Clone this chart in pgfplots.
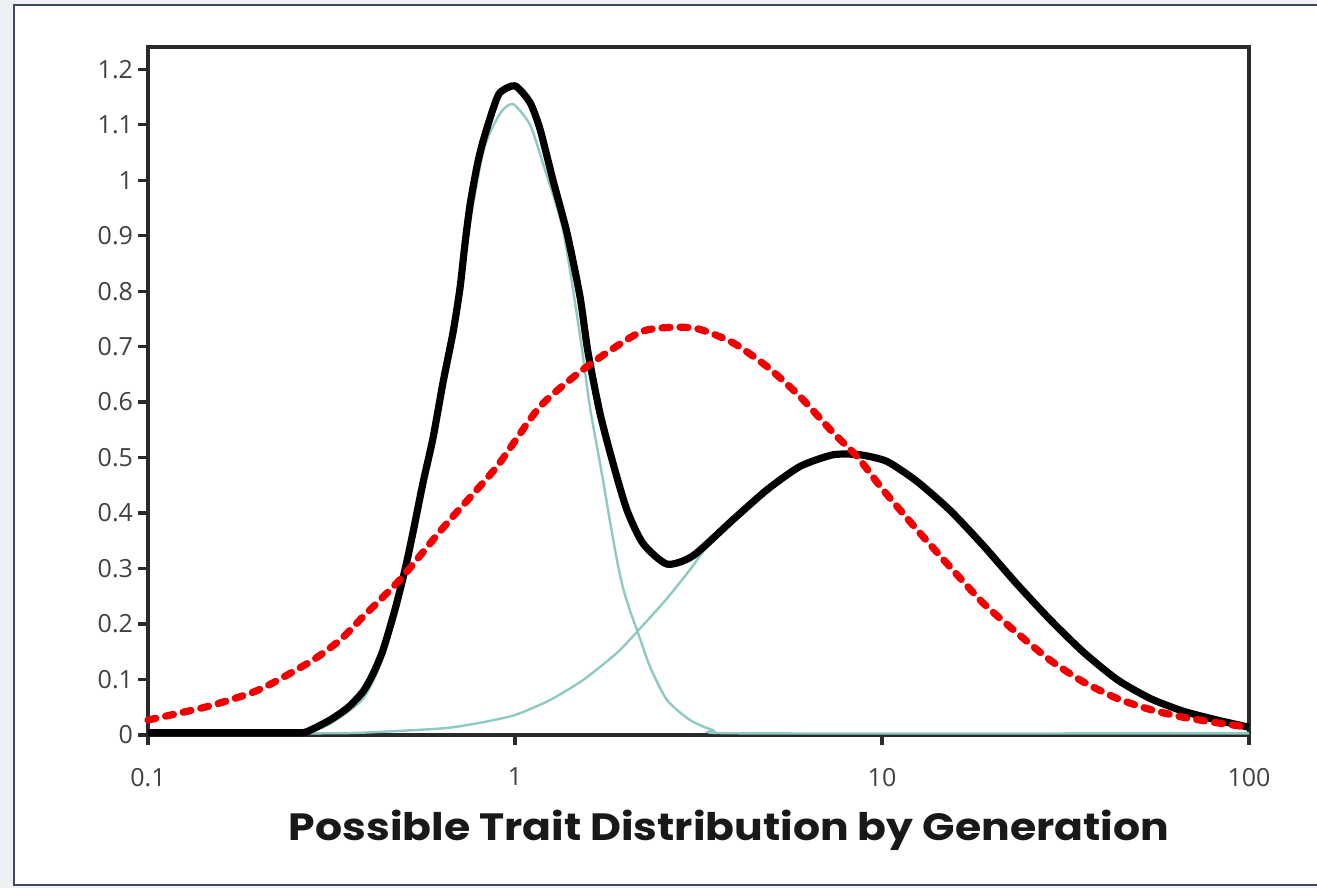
\documentclass[border=0pt]{standalone}
\usepackage{fontspec}
\setmainfont{Open Sans}
\newfontfamily\titlefont{Poppins}
\usepackage{pgfplots}
\pgfplotsset{compat=1.18}
\definecolor{framec}{HTML}{3F4A5E}
\definecolor{bgout}{HTML}{EEF0F3}
\definecolor{tealc}{HTML}{8FC9C4}
\definecolor{tickc}{HTML}{404040}
\definecolor{axisc}{HTML}{2A2A2A}
\definecolor{redc}{HTML}{F20000}
\begin{document}
\begin{tikzpicture}
\useasboundingbox (0pt,0pt) rectangle (658.5pt,444pt);
\fill[bgout] (0pt,0pt) rectangle (658.5pt,444pt);
\filldraw[fill=white, draw=framec, line width=1.4pt] (7pt,1.5pt) rectangle (662pt,441.5pt);
\begin{axis}[
  at={(74pt,76.5pt)}, anchor=south west,
  scale only axis, width=550.5pt, height=344pt,
  xmode=log, xmin=0.1, xmax=100, ymin=0, ymax=1.24,
  xtick={0.1,1,10,100}, xticklabels={0.1,1,10,100},
  xminorticks=false,
  ytick={0,0.1,0.2,0.3,0.4,0.5,0.6,0.7,0.8,0.9,1,1.1,1.2},
  yticklabels={0,0.1,0.2,0.3,0.4,0.5,0.6,0.7,0.8,0.9,1,1.1,1.2},
  tick pos=left, tick align=outside, major tick length=5pt,
  axis line style={axisc, line width=1.6pt},
  every tick/.style={axisc, line width=1.6pt},
  tick label style={font=\fontsize{12.5}{14}\selectfont, text=tickc},
  yticklabel style={xshift=1pt},
  xticklabel style={yshift=-8pt},
  clip=false,
]
% first component (teal)
\addplot[tealc, line width=1.2pt, smooth, tension=0.4] coordinates {
(0.2712,0.003) (0.3133,0.02) (0.3853,0.065) (0.4369,0.14) (0.5015,0.28) (0.5617,0.44) (0.6365,0.62) (0.7307,0.87) (0.8181,1.05) (0.9102,1.12) (0.9875,1.137) (1.0986,1.10) (1.192,1.03) (1.3514,0.91) (1.5036,0.72) (1.6012,0.59) (1.7368,0.46) (1.8148,0.385) (1.8963,0.315) (1.97,0.265) (2.0580,0.224) (2.1637,0.184) (2.3330,0.123) (2.5953,0.063) (2.998,0.027) (3.463,0.009) (4.181,0.003) (100,0.003)
};
% second component (teal)
\addplot[tealc, line width=1.2pt, smooth, tension=0.4] coordinates {
(0.2763,0.003) (0.3781,0.004) (0.6365,0.012) (0.8027,0.022) (1,0.036) (1.2457,0.063) (1.5320,0.099) (1.8963,0.148) (2.1637,0.188) (2.5953,0.246) (3.055,0.305) (3.253,0.33) (3.926,0.388) (4.861,0.442) (5.978,0.484) (7.355,0.505) (8.713,0.505) (10.318,0.493) (12.457,0.457) (15.32,0.405) (18.85,0.342) (23.32,0.272) (28.70,0.208) (35.29,0.15) (43.69,0.1) (53.73,0.066) (66.11,0.043) (81.82,0.027) (100,0.014)
};
% total (black)
\addplot[black, line width=3.6pt, line join=round, smooth, tension=0.4] coordinates {
(0.1,0.004) (0.1896,0.004) (0.2547,0.004) (0.2712,0.006) (0.3133,0.027) (0.35,0.049) (0.3853,0.078) (0.4103,0.11) (0.4369,0.153) (0.4710,0.226) (0.5015,0.298) (0.5273,0.365) (0.5617,0.455) (0.5978,0.535) (0.6365,0.635) (0.6777,0.725) (0.7081,0.805) (0.7307,0.885) (0.7541,0.955) (0.7879,1.025) (0.8181,1.07) (0.8710,1.128) (0.9102,1.158) (1,1.17) (1.0986,1.14) (1.170,1.092) (1.269,1.00) (1.3857,0.905) (1.5036,0.79) (1.5808,0.69) (1.7043,0.58) (1.8493,0.49) (2.0196,0.405) (2.2330,0.345) (2.5953,0.308) (3.055,0.323) (3.926,0.388) (4.861,0.442) (5.978,0.484) (7.355,0.505) (8.713,0.505) (10.318,0.493) (12.457,0.457) (15.32,0.405) (18.85,0.342) (23.32,0.272) (28.70,0.208) (35.29,0.15) (43.69,0.1) (53.73,0.066) (66.11,0.043) (81.82,0.027) (100,0.014)
};
% red dashed
\addplot[redc, line width=3.6pt, line cap=round, dash pattern=on 4pt off 5pt, smooth, tension=0.4] coordinates {
(0.1,0.027) (0.1448,0.051) (0.1896,0.075) (0.2191,0.094) (0.2815,0.135) (0.3336,0.171) (0.3853,0.213) (0.4860,0.28) (0.6246,0.367) (0.6777,0.394) (0.8933,0.484) (1.170,0.592) (1.571,0.664) (2.1912,0.726) (2.729,0.735) (3.192,0.731) (3.926,0.707) (4.861,0.664) (5.978,0.61) (7.355,0.545) (8.551,0.502) (10.06,0.442) (12.457,0.37) (15.32,0.303) (18.85,0.238) (23.32,0.184) (28.70,0.135) (35.29,0.096) (43.69,0.066) (53.73,0.046) (66.11,0.032) (81.82,0.022) (100,0.014)
};
\end{axis}
\node[font=\titlefont\bfseries\fontsize{19}{22}\selectfont, text=black!90] at (364.5pt,29pt) {\scalebox{1.12}[1]{Possible Trait Distribution by Generation}};
\end{tikzpicture}
\end{document}
